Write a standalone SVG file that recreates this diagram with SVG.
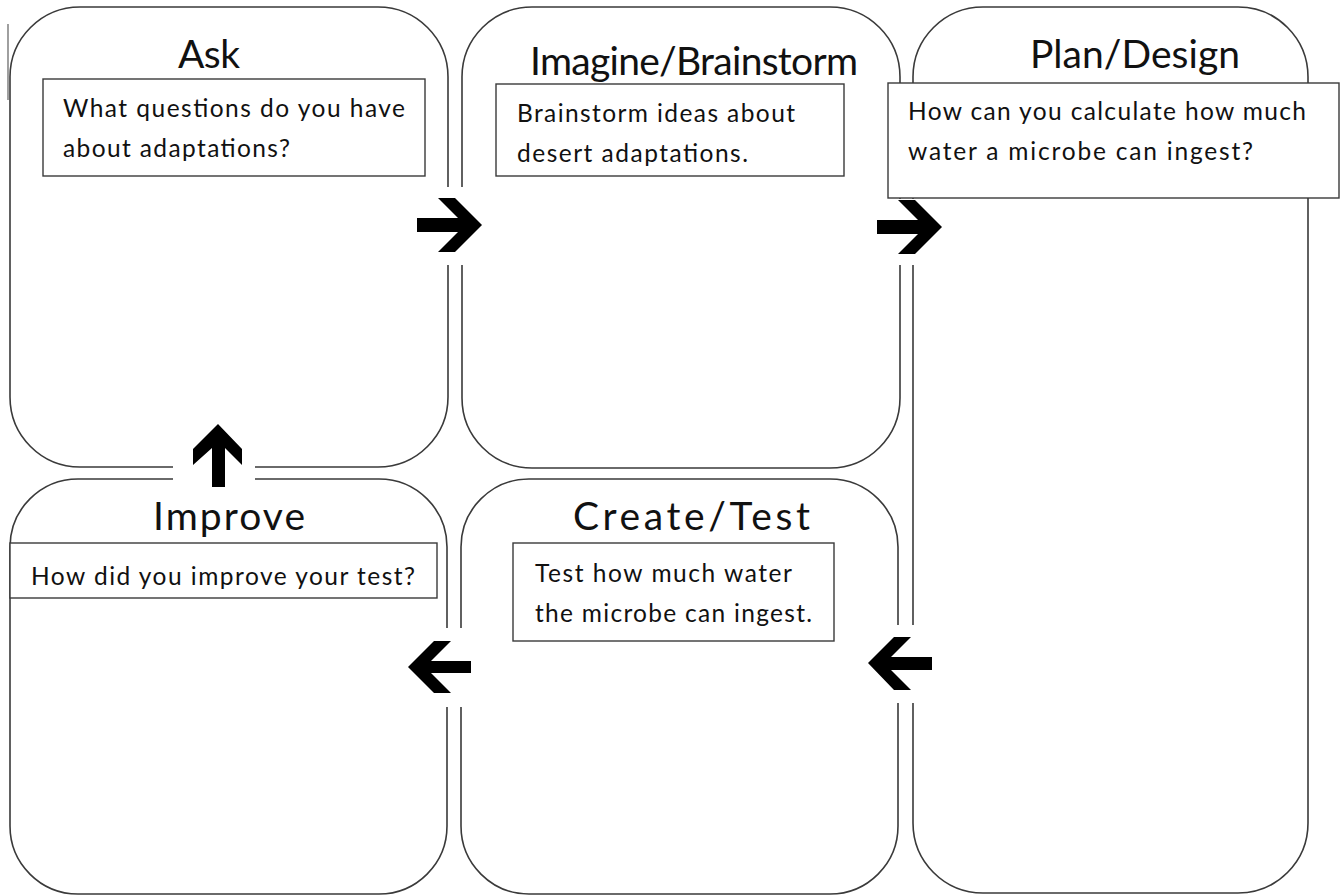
<svg xmlns="http://www.w3.org/2000/svg" width="1340" height="896" viewBox="0 0 1340 896">
<style>
.stage{fill:none;stroke:#3a3a3a;stroke-width:1.6}
.tbox{fill:#fff;stroke:#3a3a3a;stroke-width:1.4}
.title{font-family:Lato,"Liberation Sans",sans-serif;font-size:39px;fill:#111}
.body{font-family:Lato,"Liberation Sans",sans-serif;font-size:24.5px;fill:#111}
.arrow{fill:#000}
.gap{fill:#fff}
</style>
<rect width="1340" height="896" fill="#fff"/>
<line x1="8" y1="24" x2="8" y2="100" stroke="#777" stroke-width="1.4"/>
<g id="ask">
<rect class="stage" x="10" y="7" width="438" height="460" rx="70" ry="70"/>
<text class="title" x="178" y="68" textLength="62">Ask</text>
<rect class="tbox" x="43" y="79" width="382" height="97"/>
<text class="body" x="63" y="117" textLength="342">What questions do you have</text>
<text class="body" x="63" y="157" textLength="227">about adaptations?</text>
</g>
<g id="imagine">
<rect class="stage" x="462" y="7" width="438" height="461" rx="70" ry="70"/>
<text class="title" x="530" y="75" textLength="328">Imagine/Brainstorm</text>
<rect class="tbox" x="496" y="84" width="348" height="92"/>
<text class="body" x="517" y="122" textLength="278">Brainstorm ideas about</text>
<text class="body" x="517" y="162" textLength="231">desert adaptations.</text>
</g>
<g id="plan">
<rect class="stage" x="913" y="7" width="395" height="886" rx="70" ry="70"/>
<text class="title" x="1030" y="68" textLength="210">Plan/Design</text>
<rect class="tbox" x="888" y="83" width="451" height="115"/>
<text class="body" x="908" y="120" textLength="398">How can you calculate how much</text>
<text class="body" x="908" y="160" textLength="345">water a microbe can ingest?</text>
</g>
<g id="improve">
<rect class="stage" x="10" y="479" width="437" height="415" rx="68" ry="68"/>
<text class="title" x="153" y="530" textLength="152">Improve</text>
<rect class="tbox" x="10" y="543" width="427" height="55"/>
<text class="body" x="31" y="585" textLength="384">How did you improve your test?</text>
</g>
<g id="create">
<rect class="stage" x="461" y="479" width="437" height="415" rx="68" ry="68"/>
<text class="title" x="573" y="530" textLength="237">Create/Test</text>
<rect class="tbox" x="513" y="543" width="321" height="98"/>
<text class="body" x="535" y="582" textLength="257">Test how much water</text>
<text class="body" x="535" y="622" textLength="277">the microbe can ingest.</text>
</g>
<g id="connectors">
<rect class="gap" x="412" y="187" width="75" height="78"/>
<polygon class="arrow" points="482,225 455,198 438,198 458,218 417,218 417,232 458,232 438,252 455,252"/>
<rect class="gap" x="870" y="199" width="76" height="66"/>
<polygon class="arrow" points="942,227 915,200 898,200 918,220 877,220 877,234 918,234 898,254 915,254"/>
<rect class="gap" x="173" y="420" width="82" height="70"/>
<polygon class="arrow" points="218,424 242,449 242,465 225,448 225,487 212,487 212,448 193,465 193,449"/>
<rect class="gap" x="403" y="628" width="72" height="79"/>
<polygon class="arrow" points="408,667 434,641 451,641 431,661 471,661 471,673 431,673 451,693 434,693"/>
<rect class="gap" x="863" y="625" width="73" height="78"/>
<polygon class="arrow" points="868,663 894,637 911,637 891,657 932,657 932,670 891,670 911,690 894,690"/>
</g>
</svg>
